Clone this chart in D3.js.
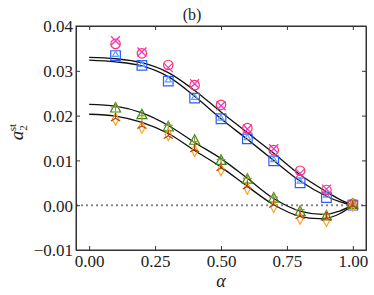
<!DOCTYPE html>
<html>
<head>
<meta charset="utf-8">
<script src="https://cdnjs.cloudflare.com/ajax/libs/d3/7.8.5/d3.min.js"></script>
<style>
  body { margin: 0; background: #fff; }
  svg text { font-family: "Liberation Serif", "Times New Roman", serif !important; fill: #222; }
  .tick-label { font-size: 17px; }
</style>
</head>
<body>
<svg width="374" height="295"></svg>
<script>
// alpha values of the simulation points
var alphas = [0.1, 0.2, 0.3, 0.4, 0.5, 0.6, 0.7, 0.8, 0.9, 1.0];

// upper group
var redCircles  = [0.0360, 0.0339, 0.0313, 0.0268, 0.0224, 0.0172, 0.0123, 0.0077, 0.0034, 0.0003];
var magentaX    = [0.0367, 0.0342, 0.0307, 0.0271, 0.0222, 0.0170, 0.0126, 0.0071, 0.0036, 0.0002];
var blueSquares = [0.0334, 0.0312, 0.0277, 0.0239, 0.0193, 0.0148, 0.0099, 0.0050, 0.0017, 0.0000];
var lightBlue   = [0.0336, 0.0314, 0.0279, 0.0240, 0.0194, 0.0150, 0.0101, 0.0053, 0.0022, 0.0001];
// lower group
var greenTri    = [0.0217, 0.0202, 0.0175, 0.0145, 0.0100, 0.0058, 0.0016, -0.0014, -0.0024, 0.0002];
var olivePlus   = [0.0219, 0.0200, 0.0178, 0.0142, 0.0102, 0.0060, 0.0018, -0.0010, -0.0020, 0.0003];
var orangeDiam  = [0.0192, 0.0174, 0.0158, 0.0122, 0.0079, 0.0038, -0.0003, -0.0029, -0.0034, 0.0000];
var brownTri    = [0.0194, 0.0177, 0.0155, 0.0125, 0.0083, 0.0042, 0.0001, -0.0024, -0.0028, -0.0001];

// theory curves, read at these alpha values
var curveAlphas = [0, 0.1, 0.2, 0.3, 0.4, 0.5, 0.6, 0.7, 0.8, 0.9, 0.95, 1.0];
var curveA = [0.0330, 0.0327, 0.0318, 0.0296, 0.0256, 0.0208, 0.0162, 0.0116, 0.0068, 0.0030, 0.0013, 0];
var curveB = [0.0324, 0.0320, 0.0311, 0.0287, 0.0243, 0.0193, 0.0147, 0.0100, 0.0054, 0.0020, 0.0008, 0];
var curveC = [0.0225, 0.0221, 0.0206, 0.0178, 0.0140, 0.0104, 0.0060, 0.0015, -0.0013, -0.0020, -0.0013, 0];
var curveD = [0.0203, 0.0199, 0.0185, 0.0160, 0.0122, 0.0085, 0.0042, 0.0001, -0.0025, -0.0029, -0.0019, 0];

var xTicks = [0, 0.25, 0.5, 0.75, 1.0];
var yTicks = [-0.01, 0, 0.01, 0.02, 0.03, 0.04];

var svg = d3.select("svg");
var pl = 76, pr = 366, pt = 26, pb = 250;
var serif = "'Liberation Serif', 'Times New Roman', serif";

var x = d3.scaleLinear().domain([-0.05, 1.05]).range([pl, pr]);
var y = d3.scaleLinear().domain([-0.01, 0.04]).range([pb, pt]);

var fmt = function(d) { return (d < 0 ? "\u2212" : "") + Math.abs(d).toFixed(2); };

// zero line
svg.append("line")
    .attr("x1", pl).attr("x2", pr)
    .attr("y1", y(0)).attr("y2", y(0))
    .attr("stroke", "#888").attr("stroke-width", 2)
    .attr("stroke-dasharray", "2,3");

// theory curves
var line = d3.line()
    .x(function(d) { return x(d[0]); })
    .y(function(d) { return y(d[1]); })
    .curve(d3.curveCatmullRom.alpha(0.5));

[curveA, curveB, curveC, curveD].forEach(function(c) {
  svg.append("path")
      .datum(curveAlphas.map(function(a, i) { return [a, c[i]]; }))
      .attr("d", line)
      .attr("fill", "none")
      .attr("stroke", "#111")
      .attr("stroke-width", 1.3);
});

// marker shapes
var shapes = {
  circle: d3.symbol().type(d3.symbolCircle).size(70)(),
  square: "M-4.8,-4.8H4.8V4.8H-4.8Z",
  cross: "M-4.5,-4.5L4.5,4.5M-4.5,4.5L4.5,-4.5",
  plus: "M-4.5,0H4.5M0,-4.5V4.5",
  triangle: "M0,-5.5L5,4H-5Z",
  diamond: "M0,-6L3.2,0L0,6L-3.2,0Z",
  tridown: "M0,0V-5.5M0,0L4.6,2.7M0,0L-4.6,2.7",
  star: d3.symbol().type(d3.symbolTriangle).size(16)()
};

var series = [
  {vals: blueSquares, shape: "square",   color: "#2a5cff"},
  {vals: lightBlue,   shape: "star",     color: "#5aa0ff"},
  {vals: redCircles,  shape: "circle",   color: "#ff3355"},
  {vals: magentaX,    shape: "cross",    color: "#ee33cc"},
  {vals: greenTri,    shape: "triangle", color: "#3a8a10"},
  {vals: olivePlus,   shape: "plus",     color: "#9a9a30"},
  {vals: orangeDiam,  shape: "diamond",  color: "#ffa020"},
  {vals: brownTri,    shape: "tridown",  color: "#b04010"}
];

series.forEach(function(s) {
  svg.append("g").selectAll("path")
    .data(s.vals)
    .join("path")
      .attr("transform", function(d, i) { return "translate(" + x(alphas[i]) + "," + y(d) + ")"; })
      .attr("d", shapes[s.shape])
      .attr("fill", "none")
      .attr("stroke", s.color)
      .attr("stroke-width", 1.2);
});

// axes with inward ticks on all sides
svg.append("g").attr("transform", "translate(0," + pb + ")")
    .call(d3.axisBottom(x).tickValues(xTicks).tickSizeInner(-4).tickSizeOuter(0).tickFormat(fmt))
    .call(function(g) {
      g.selectAll(".tick text").attr("class", "tick-label").attr("dy", null).attr("y", 17);
    });
svg.append("g").attr("transform", "translate(0," + pt + ")")
    .call(d3.axisTop(x).tickValues(xTicks).tickSizeInner(-4).tickSizeOuter(0).tickFormat(""));
svg.append("g").attr("transform", "translate(" + pl + ",0)")
    .call(d3.axisLeft(y).tickValues(yTicks).tickSizeInner(-4).tickSizeOuter(0).tickFormat(fmt))
    .call(function(g) {
      g.selectAll(".tick text").attr("class", "tick-label").attr("x", -3).attr("dy", "0.35em");
    });
svg.append("g").attr("transform", "translate(" + pr + ",0)")
    .call(d3.axisRight(y).tickValues(yTicks).tickSizeInner(-4).tickSizeOuter(0).tickFormat(""));

svg.selectAll(".domain").attr("stroke", "#333");
svg.selectAll(".tick line").attr("stroke", "#333");
svg.selectAll("g").attr("font-family", null).attr("font-size", null);
svg.selectAll(".tick-label").style("font-family", serif).style("font-size", "17px");

// frame
svg.append("rect")
    .attr("x", pl).attr("y", pt)
    .attr("width", pr - pl).attr("height", pb - pt)
    .attr("fill", "none").attr("stroke", "#333").attr("stroke-width", 1);

// title
svg.append("text")
    .attr("x", 192).attr("y", 20)
    .attr("text-anchor", "middle")
    .style("font-family", serif)
    .style("font-size", "16px")
    .text("(b)");

// x label
svg.append("text")
    .attr("x", x(0.5)).attr("y", 287)
    .attr("text-anchor", "middle")
    .style("font-family", serif)
    .style("font-size", "18px").style("font-style", "italic")
    .text("\u03b1");

// y label
var yl = svg.append("text")
    .attr("transform", "translate(23,132) rotate(-90)")
    .attr("text-anchor", "middle")
    .style("font-family", serif)
    .style("font-size", "19px");
yl.append("tspan").style("font-style", "italic").text("a");
yl.append("tspan").attr("dy", 4).style("font-size", "11px").text("2");
yl.append("tspan").attr("dy", -11).attr("dx", -6).style("font-size", "11px").text("st");
</script>
</body>
</html>
